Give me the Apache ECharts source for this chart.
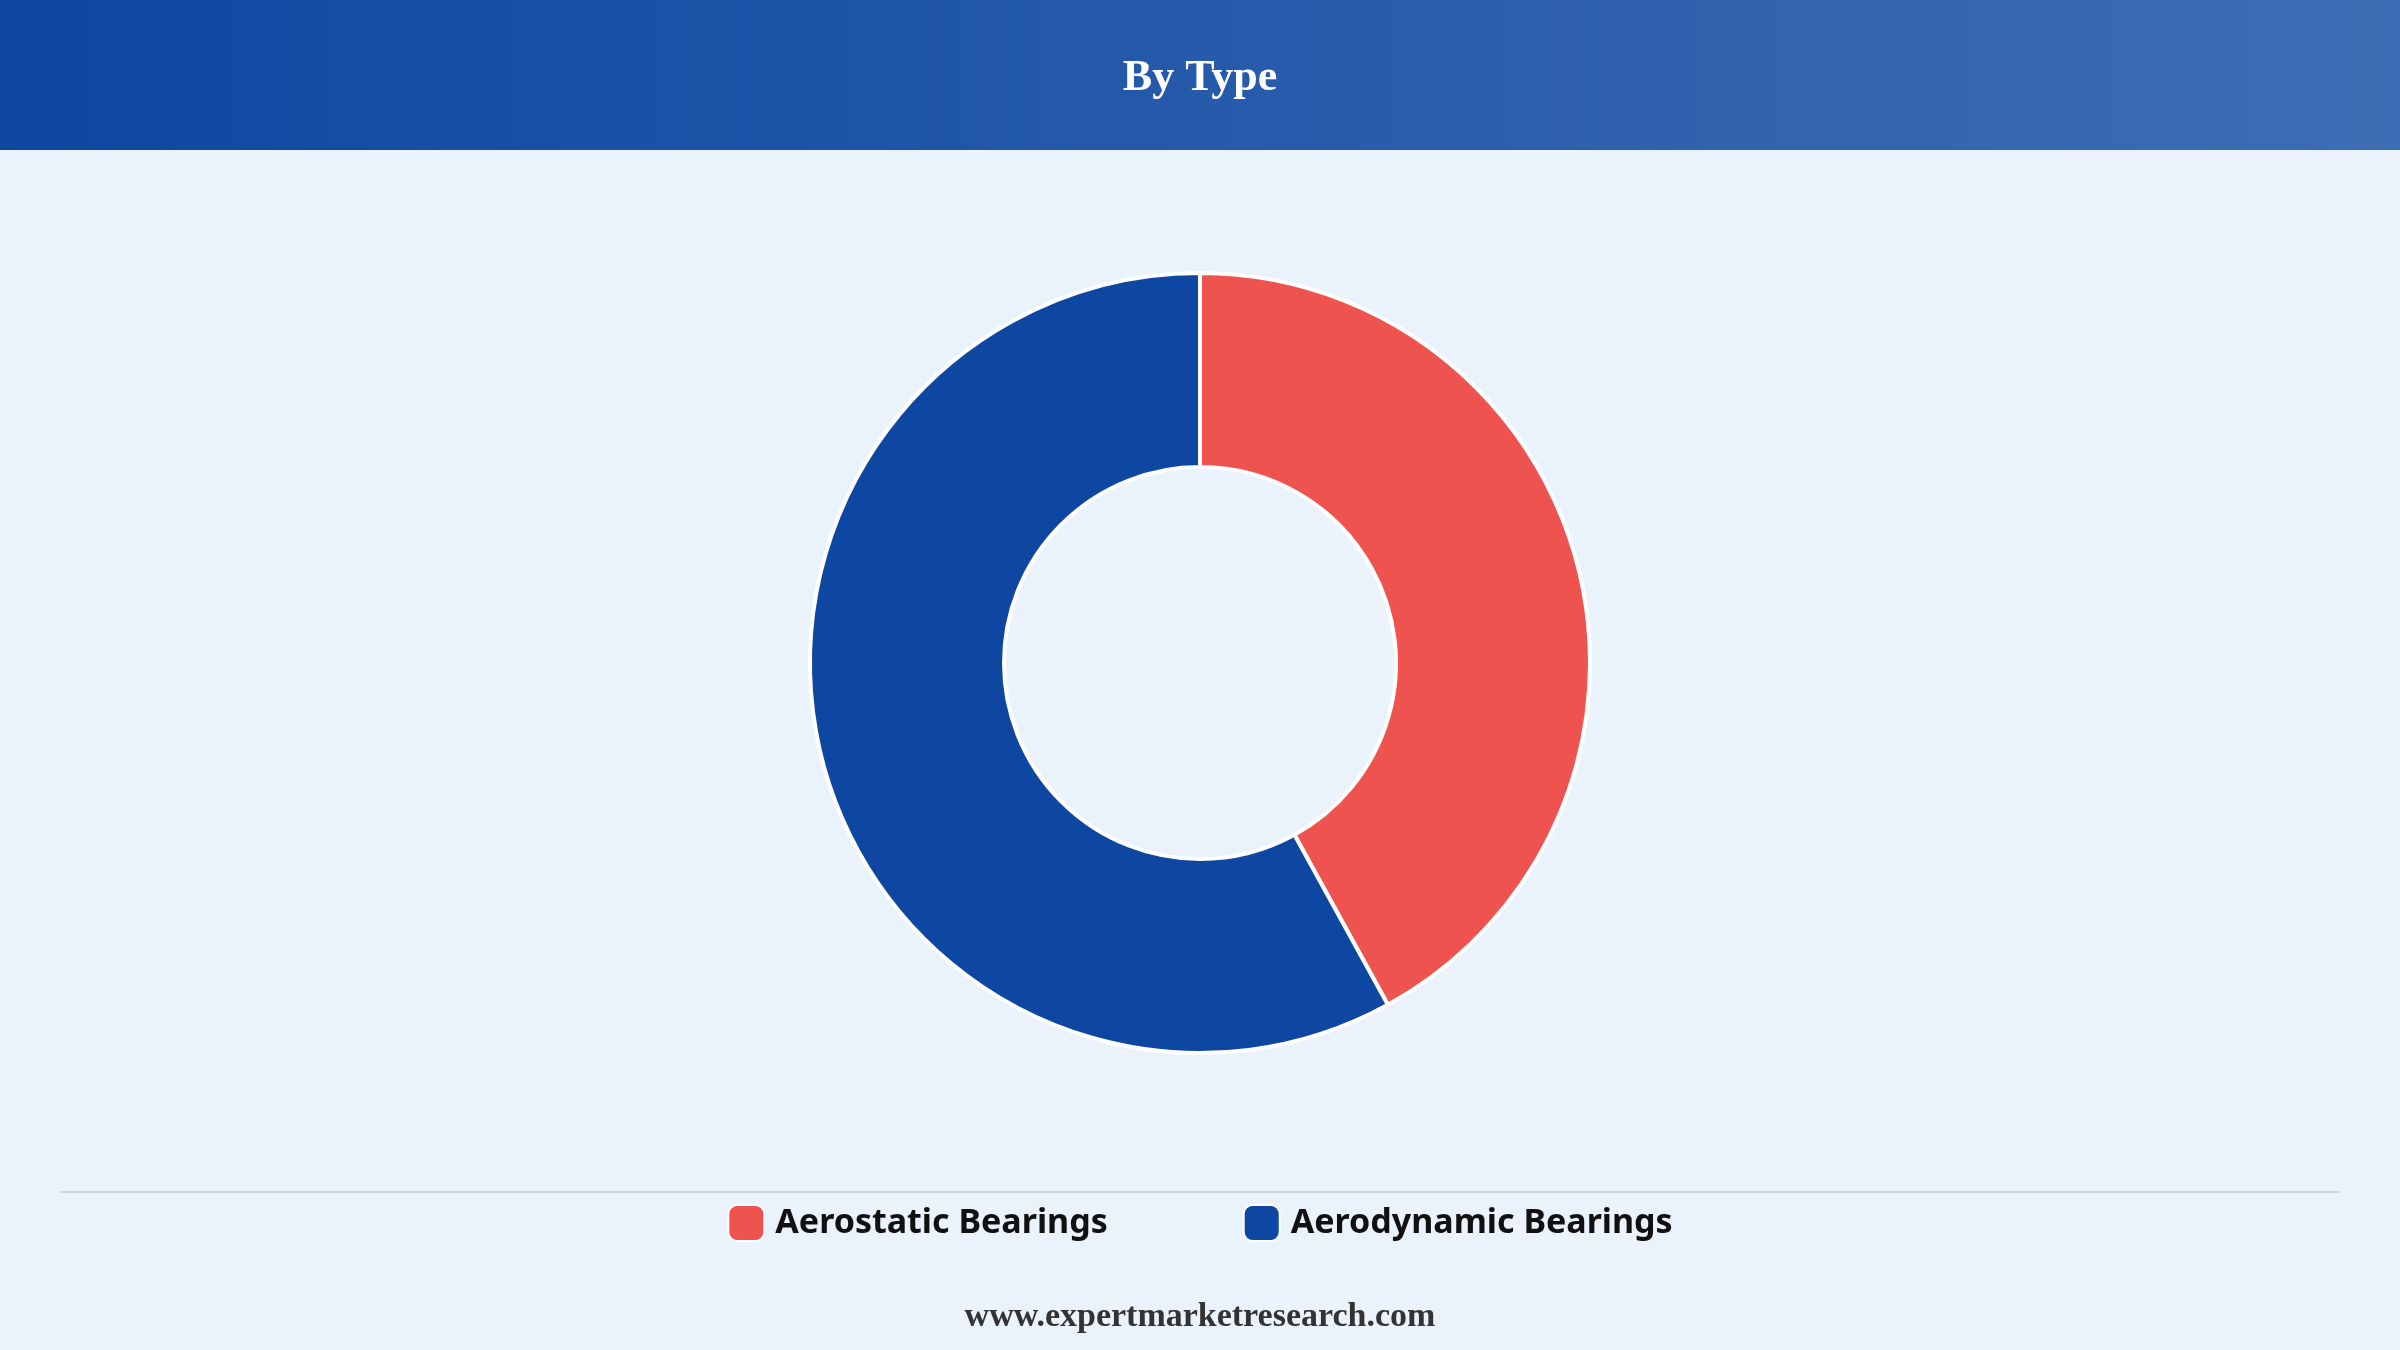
<!DOCTYPE html>
<html><head><meta charset="utf-8">
<script src="https://cdn.jsdelivr.net/npm/echarts@6/dist/echarts.min.js"></script>
<style>html,body{margin:0;padding:0;background:#eaf2fb}#c{width:2400px;height:1350px}</style>
</head><body><div id="c"></div>
<script>
const categories = ["Aerostatic Bearings", "Aerodynamic Bearings"];
const values = [42, 58];
const colors = ["#ef5350", "#0d47a1"];

const chart = echarts.init(document.getElementById('c'));
chart.setOption({
  backgroundColor: '#eaf2fb',
  graphic: [
    {type:'rect', z:0, shape:{x:0,y:0,width:2400,height:150},
     style:{fill:new echarts.graphic.LinearGradient(0,0,1,0,[{offset:0,color:'#0d47a1'},{offset:1,color:'#3e6db4'}])}},
    {type:'line', shape:{x1:61,y1:1192,x2:2339,y2:1192}, style:{stroke:'#d0d4da',lineWidth:2}},
    {type:'text', left:'center', top:1300, style:{text:'www.expertmarketresearch.com', font:'bold 34px "Liberation Serif", "DejaVu Serif", serif', fill:'#333'}}
  ],
  title: {text:'By Type', left:'center', top:52,
    textStyle:{color:'#fff', fontSize:44, fontWeight:'bold', fontFamily:'"Liberation Serif", serif'}},
  legend: {bottom:103, left:'center', itemWidth:36, itemHeight:36, itemGap:135,
    icon:'roundRect',
    textStyle:{fontSize:34, fontWeight:'bold', color:'#111', fontFamily:'"Noto Sans", Lato, sans-serif', padding:[0,0,0,6]},
    data: categories},
  series: [{
    type:'pie', center:[1200,663], radius:[196,390], startAngle:90, clockwise:true,
    label:{show:false}, labelLine:{show:false},
    itemStyle:{borderColor:'#fff', borderWidth:4},
    data: categories.map((n,i)=>({name:n, value:values[i], itemStyle:{color:colors[i]}}))
  }]
});
</script></body></html>
